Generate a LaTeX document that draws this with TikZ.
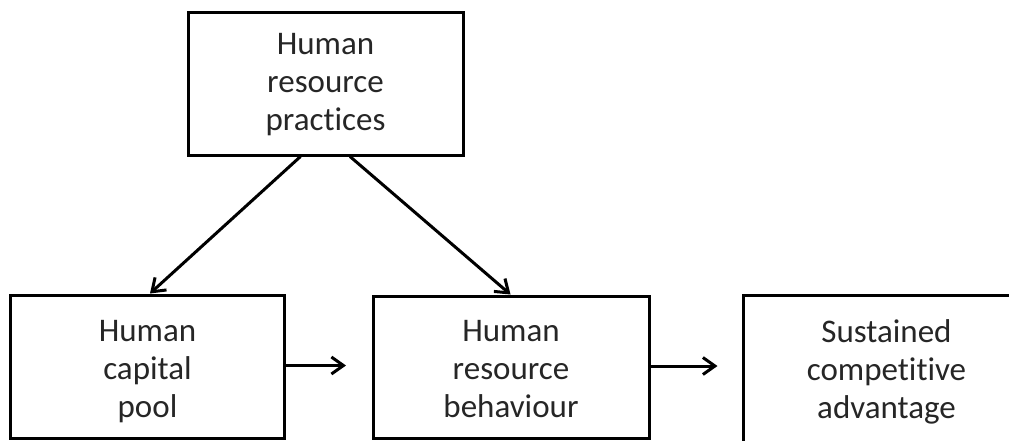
\documentclass[tikz,border=0pt]{standalone}
\usepackage{fontspec}
\setmainfont[Ligatures=NoCommon]{Carlito}
\usetikzlibrary{arrows.meta}
\begin{document}
\begin{tikzpicture}[x=1pt,y=-1pt,
  box/.style={draw=black,line width=3pt,fill=white,inner sep=0pt},
  txt/.style={align=center,font=\fontsize{33}{38}\selectfont,text=black!85,inner sep=0pt},
  arr/.style={line width=3pt,-{Straight Barb[length=12pt,width=17pt,line width=3pt]}}]
\useasboundingbox (0,0) rectangle (1009,440);
\clip (0,0) rectangle (1009,440);
\fill[white] (0,0) rectangle (1009,440);
\node[box,minimum width=275pt,minimum height=143pt] (hrp) at (325.5,83.5) {};
\node[box,minimum width=274pt,minimum height=143pt] (pool) at (147,366.5) {};
\node[box,minimum width=276pt,minimum height=142pt] (beh) at (511.5,367) {};
\node[box,draw=none,minimum width=290pt,minimum height=146pt] (sca) at (890,370) {};
\draw[line width=3pt] (sca.south west) -- (sca.north west) -- (sca.north east);
\node[txt] (t1) at (325.5,85) {Human\\resource\\practices};
\node[txt] (t2) at (147.5,372) {Human\\capital\\pool};
\node[txt] (t3) at (511,369) {Human\\resource\\behaviour};
\node[txt] (t4) at (886.5,372) {Sustained\\competitive\\advantage};
\draw[arr] ([xshift=-25pt]hrp.south) -- ([xshift=3pt]pool.north);
\draw[arr] ([xshift=24.5pt]hrp.south) -- ([xshift=-1pt]beh.north);
\draw[arr,shorten >=26pt] ([yshift=1pt]pool.east) -- ([yshift=1pt]pool.east -| beh.west);
\draw[arr,shorten >=26pt] ([yshift=1pt]beh.east) -- ([yshift=1pt]beh.east -| sca.west);
\end{tikzpicture}
\end{document}
